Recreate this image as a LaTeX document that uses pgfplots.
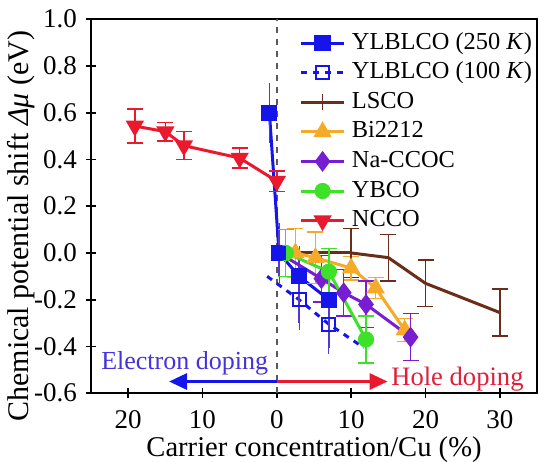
\documentclass[border=0pt]{standalone}
\usepackage{fontspec}
\setmainfont{Liberation Serif}
\usepackage{pgfplots}
\pgfplotsset{compat=1.18}
\usetikzlibrary{arrows.meta}
\definecolor{cblue}{RGB}{20,20,235}
\definecolor{cerr}{RGB}{85,55,215}
\definecolor{cbrown}{RGB}{105,45,25}
\definecolor{corange}{RGB}{245,170,40}
\definecolor{cpurple}{RGB}{120,30,210}
\definecolor{cgreen}{RGB}{60,225,40}
\definecolor{cred}{RGB}{235,25,45}
\definecolor{celec}{RGB}{70,50,220}
\definecolor{chole}{RGB}{225,30,60}
\begin{document}
\fontsize{13}{15}\selectfont
\begin{tikzpicture}
\begin{axis}[
  scale only axis, width=223pt, height=187pt,
  xmin=-25, xmax=35, ymin=-0.6, ymax=1.0,
  xtick={-20,-10,0,10,20,30}, xticklabels={20,10,0,10,20,30},
  ytick={-0.6,-0.4,-0.2,0,0.2,0.4,0.6,0.8,1.0},
  yticklabel style={/pgf/number format/.cd,fixed,fixed zerofill,precision=1},
  /pgf/number format/assume math mode=true,
  ticklabel style={font=\fontsize{13.5}{15}\selectfont},
  xticklabel style={yshift=-1.5pt},
  tick align=center, major tick length=5pt,
  xtick pos=bottom, ytick pos=left,
  axis line style={line width=0.9pt},
  every tick/.style={black, line width=0.9pt},
  xlabel={Carrier concentration/Cu (\%)},
  ylabel={Chemical potential shift \textit{Δμ} (eV)},
  every axis x label/.style={at={([yshift=-28pt]rel axis cs:0.5,0)}, anchor=center, font=\fontsize{14.3}{16}\selectfont},
  every axis y label/.style={at={([xshift=-35pt,yshift=-10pt]rel axis cs:0,0.5)}, anchor=center, rotate=90, font=\fontsize{15}{17}\selectfont},
  legend style={draw=none, fill=none, at={(0.462,0.978)}, anchor=north west,
    legend cell align=left, row sep=1.6pt, column sep=2.5pt, inner sep=1pt,
    font=\fontsize{12.2}{14}\selectfont,
    nodes={inner sep=0.6pt, text height=9pt, text depth=3pt}},
  legend image code/.code={\draw[mark repeat=2,mark phase=2,#1] plot coordinates {(0cm,0cm)(0.38cm,0cm)(0.76cm,0cm)};},
  error bars/error bar style={line width=0.7pt},
  error bars/error mark options={rotate=90, mark size=4pt, line width=0.7pt},
]
\coordinate (sw) at (rel axis cs:0,0);
\coordinate (ne) at (rel axis cs:1,1);
% zero line
\addplot[gray!70!black, dashed, line width=0.9pt, forget plot] coordinates {(0,-0.6) (0,1.0)};

% YLBLCO 250 K
\addplot[cblue, line width=1.5pt, mark=square*, mark size=3.3pt,
  error bars/.cd, y dir=both, y explicit, error bar style={cerr}, error mark options={cerr}]
  coordinates {(-1,0.6) +- (0,0.1) (0.3,0.0) +- (0,0.1) (3,-0.1) +- (0,0.1) (7,-0.2) +- (0,0.1)};
\addlegendentry{YLBLCO (250 \textit{K})}

% YLBLCO 100 K
\addlegendimage{cblue, line width=1.2pt, dashed, mark=square, mark size=3.3pt, mark options={solid}}
\addlegendentry{YLBLCO (100 \textit{K})}
\addplot[cblue, line width=1.5pt, dashed, forget plot] coordinates {(-1.3,-0.1) (3,-0.2) (7,-0.305) (11.7,-0.405)};
\addplot[only marks, cblue, mark=square, mark size=3.3pt, line width=1pt, forget plot,
  error bars/.cd, y dir=both, y explicit, error bar style={cerr}, error mark options={cerr}]
  coordinates {(3,-0.2) +- (0,0.1) (7,-0.305) +- (0,0.1)};

% LSCO
\addplot[cbrown, line width=1.5pt, forget plot] coordinates {(0.3,0.0) (10,0.0)};
\addplot[cbrown, line width=1.5pt, mark=|, mark size=4pt, mark options={line width=0.7pt},
  error bars/.cd, y dir=both, y explicit]
  coordinates {(10,0.0) +- (0,0.105) (15,-0.02) +- (0,0.1) (20,-0.13) +- (0,0.1) (30,-0.255) +- (0,0.1)};
\addlegendentry{LSCO}

% Bi2212
\addplot[corange, line width=1.5pt, mark=triangle*, mark size=3.8pt,
  error bars/.cd, y dir=both, y explicit]
  coordinates {(2.5,0.0) +- (0,0.105) (5.2,-0.02) +- (0,0.11) (10,-0.065) +- (0,0.05) (13.3,-0.15) +- (0,0.045) (17.2,-0.33) +- (0,0.05)};
\addlegendentry{Bi2212}

% Na-CCOC
\addplot[cpurple, line width=1.5pt, forget plot] coordinates {(0.3,0.0) (6,-0.11)};
\addplot[cpurple, line width=1.5pt, mark=diamond*, mark size=4pt,
  error bars/.cd, y dir=both, y explicit]
  coordinates {(6,-0.11) +- (0,0.1) (9,-0.17) +- (0,0.1) (12,-0.22) +- (0,0.1) (18,-0.36) +- (0,0.1)};
\addlegendentry{Na-CCOC}

% YBCO
\addplot[cgreen, line width=1.5pt, mark=*, mark size=3.3pt,
  error bars/.cd, y dir=both, y explicit]
  coordinates {(1.2,0.0) +- (0,0.1) (7,-0.08) +- (0,0.1) (12,-0.37) +- (0,0.1)};
\addlegendentry{YBCO}

% NCCO
\addplot[cred, line width=1.5pt, mark=triangle*, mark size=3.8pt, mark options={rotate=180},
  error bars/.cd, y dir=both, y explicit]
  coordinates {(-19.1,0.543) +- (0,0.072) (-15,0.519) +- (0,0.04) (-12.5,0.459) +- (0,0.06) (-5,0.406) +- (0,0.043) (0,0.307) +- (0,0.043)};
\addlegendentry{NCCO}

% redraw blue 250K squares on top
\addplot[only marks, cblue, mark=square*, mark size=3.3pt, forget plot]
  coordinates {(0.3,0.0) (3,-0.1) (7,-0.2)};

% doping arrows and labels
\draw[cblue, line width=1.5pt, -{Triangle[length=9pt,width=8pt]}] (axis cs:0,-0.55) -- (axis cs:-14.5,-0.55);
\draw[cred, line width=1.5pt, -{Triangle[length=9pt,width=8pt]}] (axis cs:0,-0.55) -- (axis cs:14.9,-0.55);
\node[celec, font=\fontsize{13}{15}\selectfont] at (axis cs:-12.4,-0.472) {Electron doping};
\node[chole, font=\fontsize{13.3}{15}\selectfont] at (axis cs:24.3,-0.54) {Hole doping};
\end{axis}
\pgfresetboundingbox
\path[use as bounding box] ([xshift=-45.5pt,yshift=-34pt]sw) rectangle ([xshift=1pt,yshift=9.6pt]ne);
\end{tikzpicture}
\end{document}
